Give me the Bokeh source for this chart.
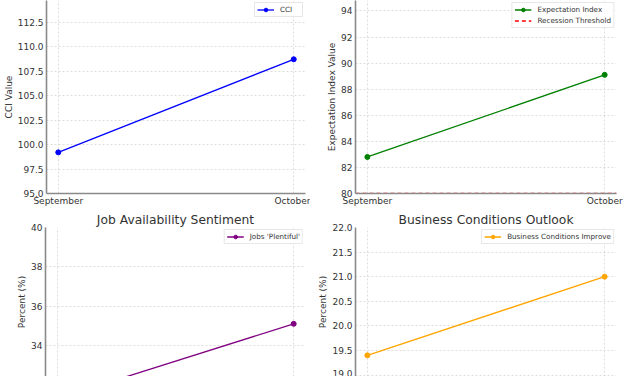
from bokeh.plotting import figure
from bokeh.layouts import column, row
from bokeh.models import Range1d, SingleIntervalTicker, NumeralTickFormatter, FixedTicker
from bokeh.embed import file_html
from bokeh.resources import INLINE

# ---- data ----
months = ["September", "October"]
cci = [99.2, 108.7]
expectation_index = [82.8, 89.1]
recession_threshold = 80
jobs_plentiful = [31.3, 35.1]
business_improve = [19.4, 21.0]

FONT = "DejaVu Sans"
TXT = "#333333"

xs = list(range(len(months)))
x_lo, x_hi = -0.05, len(months) - 1 + 0.05
overrides = {i: m for i, m in enumerate(months)}


def make_fig(width, height, y_lo, y_hi, y_interval, y_fmt, y_label, title=None,
             top=0, bottom=14, show_x=True):
    p = figure(width=width, height=height, output_backend="svg", toolbar_location=None,
               x_range=Range1d(x_lo, x_hi), y_range=Range1d(y_lo, y_hi),
               min_border_left=45, min_border_right=(5 if width == 310 else 11),
               min_border_top=top, min_border_bottom=bottom,
               title=title)
    p.outline_line_color = None
    p.background_fill_color = "white"
    p.border_fill_color = "white"
    if title:
        p.title.text_font = FONT
        p.title.text_font_size = "12.3px"
        p.title.text_font_style = "normal"
        p.title.text_color = TXT
        p.title.align = "center"
        p.title.standoff = 2
        p.title.offset = 0
    p.xaxis.ticker = FixedTicker(ticks=xs)
    p.xaxis.major_label_overrides = overrides
    p.yaxis.ticker = SingleIntervalTicker(interval=y_interval)
    p.yaxis.formatter = NumeralTickFormatter(format=y_fmt)
    for ax in (p.xaxis[0], p.yaxis[0]):
        ax.axis_line_color = "#8a8a8a"
        ax.axis_line_width = 1.6
        ax.major_tick_line_color = None
        ax.major_tick_out = 0
        ax.major_tick_in = 0
        ax.minor_tick_line_color = None
        ax.minor_tick_out = 0
        ax.minor_tick_in = 0
        ax.major_label_text_font = FONT
        ax.major_label_text_font_size = "9px"
        ax.major_label_text_color = TXT
        ax.major_label_standoff = 3
    p.yaxis.axis_label = y_label
    p.yaxis.axis_label_text_font = FONT
    p.yaxis.axis_label_text_font_size = "9px"
    p.yaxis.axis_label_text_font_style = "normal"
    p.yaxis.axis_label_text_color = TXT
    p.yaxis.axis_label_standoff = 1
    p.xaxis.major_label_standoff = 2
    if not show_x:
        p.xaxis.visible = False
    for g in (p.xgrid[0], p.ygrid[0]):
        g.grid_line_color = "#cfcfcf"
        g.grid_line_dash = "2 2"
        g.grid_line_width = 0.8
        g.grid_line_alpha = 0.9
    return p


def style_legend(p):
    lg = p.legend[0]
    lg.location = "top_right"
    lg.margin = 2
    lg.padding = 2
    lg.spacing = 2
    lg.label_text_font = FONT
    lg.label_text_font_size = "7.2px"
    lg.label_text_color = TXT
    lg.label_height = 9
    lg.glyph_height = 9
    lg.glyph_width = 17
    lg.label_standoff = 6
    lg.border_line_color = "#d0d0d0"
    lg.border_line_width = 1
    lg.background_fill_alpha = 0.9


# Top-left: CCI
p1 = make_fig(310, 208, 95, 114.7, 2.5, "0.0", "CCI Value")
p1.line(xs, cci, color="blue", line_width=1.3, legend_label="CCI")
p1.scatter(xs, cci, color="blue", size=5, legend_label="CCI")
style_legend(p1)

# Top-right: Expectation Index
p2 = make_fig(317, 208, 80, 94.8, 2, "0", "Expectation Index Value")
p2.line(xs, expectation_index, color="green", line_width=1.3, legend_label="Expectation Index")
p2.scatter(xs, expectation_index, color="green", size=5, legend_label="Expectation Index")
p2.line([x_lo, x_hi], [recession_threshold, recession_threshold], color="red",
        line_dash="4 3", line_width=1.3, legend_label="Recession Threshold")
style_legend(p2)

# Bottom-left: Jobs plentiful
p3 = make_fig(310, 168, 32.42, 40, 2, "0", "Percent (%)", title="Job Availability Sentiment",
              top=19, bottom=0, show_x=False)
p3.line(xs, jobs_plentiful, color="purple", line_width=1.3, legend_label="Jobs 'Plentiful'")
p3.scatter(xs, jobs_plentiful, color="purple", size=5, legend_label="Jobs 'Plentiful'")
style_legend(p3)

# Bottom-right: Business conditions
p4 = make_fig(317, 168, 18.97, 22, 0.5, "0.0", "Percent (%)", title="Business Conditions Outlook",
              top=19, bottom=0, show_x=False)
p4.line(xs, business_improve, color="orange", line_width=1.3, legend_label="Business Conditions Improve")
p4.scatter(xs, business_improve, color="orange", size=5, legend_label="Business Conditions Improve")
style_legend(p4)

layout = column(row(p1, p2), row(p3, p4))

open("out.html", "w").write(file_html(layout, INLINE))
